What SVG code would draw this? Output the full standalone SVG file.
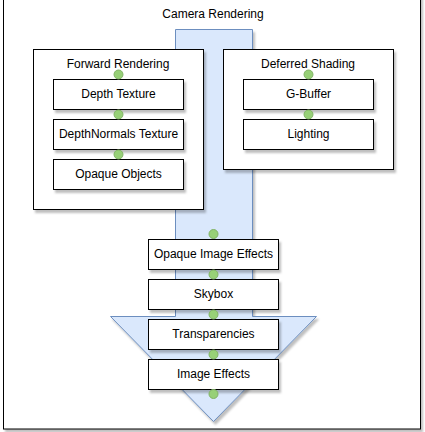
<svg xmlns="http://www.w3.org/2000/svg" width="425" height="432" viewBox="0 0 425 432">
<defs>
<filter id="sh" x="-10%" y="-10%" width="130%" height="140%">
<feDropShadow dx="2" dy="3" stdDeviation="1" flood-color="#000" flood-opacity="0.25"/>
</filter>
</defs>
<style>
text{font-family:"Liberation Sans",Arial,sans-serif;font-size:12px;fill:#000;text-anchor:middle}
.box{fill:#fff;stroke:#000;stroke-width:1}
.dot{fill:#97d077;stroke:#82b366;stroke-width:1}
.arrow{fill:#dae8fc;stroke:#6c8ebf;stroke-width:1}
</style>
<rect x="0" y="0" width="425" height="432" fill="#fff"/>
<g id="camera-rendering">
<rect x="3.5" y="-10" width="417" height="439" class="box" filter="url(#sh)"/>
<text x="213" y="18">Camera Rendering</text>
</g>
<g id="flow-arrow">
<path class="arrow" filter="url(#sh)" d="M175.5 29.5 H252.5 V316.5 H316.5 L213.5 421.5 L110.5 316.5 H175.5 Z"/>
</g>
<g id="forward-rendering">
<rect x="33.5" y="49.5" width="170" height="160" class="box" filter="url(#sh)"/>
<text x="118" y="68">Forward Rendering</text>
</g>
<g id="deferred-shading">
<rect x="223.5" y="49.5" width="170" height="120" class="box" filter="url(#sh)"/>
<text x="308" y="68">Deferred Shading</text>
</g>
<g id="depth-texture"><rect x="53.5" y="79.5" width="130" height="30" class="box" filter="url(#sh)"/><text x="118.5" y="98">Depth Texture</text></g>
<g id="depthnormals-texture"><rect x="53.5" y="119.5" width="130" height="30" class="box" filter="url(#sh)"/><text x="118.5" y="138">DepthNormals Texture</text></g>
<g id="opaque-objects"><rect x="53.5" y="159.5" width="130" height="30" class="box" filter="url(#sh)"/><text x="118.5" y="178">Opaque Objects</text></g>
<g id="g-buffer"><rect x="243.5" y="79.5" width="130" height="30" class="box" filter="url(#sh)"/><text x="308.5" y="98">G-Buffer</text></g>
<g id="lighting"><rect x="243.5" y="119.5" width="130" height="30" class="box" filter="url(#sh)"/><text x="308.5" y="138">Lighting</text></g>
<g id="opaque-image-effects"><rect x="148.5" y="239.5" width="130" height="30" class="box" filter="url(#sh)"/><text x="213.5" y="258">Opaque Image Effects</text></g>
<g id="skybox"><rect x="148.5" y="279.5" width="130" height="30" class="box" filter="url(#sh)"/><text x="213.5" y="298">Skybox</text></g>
<g id="transparencies"><rect x="148.5" y="319.5" width="130" height="30" class="box" filter="url(#sh)"/><text x="213.5" y="338">Transparencies</text></g>
<g id="image-effects"><rect x="148.5" y="359.5" width="130" height="30" class="box" filter="url(#sh)"/><text x="213.5" y="378">Image Effects</text></g>
<g id="connectors">
<circle class="dot" cx="118.5" cy="74.5" r="4.5"/>
<circle class="dot" cx="118.5" cy="114.5" r="4.5"/>
<circle class="dot" cx="118.5" cy="154.5" r="4.5"/>
<circle class="dot" cx="308.5" cy="74.5" r="4.5"/>
<circle class="dot" cx="308.5" cy="114.5" r="4.5"/>
<circle class="dot" cx="213.5" cy="234" r="4.5"/>
<circle class="dot" cx="213.5" cy="274.5" r="4.5"/>
<circle class="dot" cx="213.5" cy="314.5" r="4.5"/>
<circle class="dot" cx="213.5" cy="354.5" r="4.5"/>
<circle class="dot" cx="213.5" cy="394" r="4.5"/>
</g>
</svg>
